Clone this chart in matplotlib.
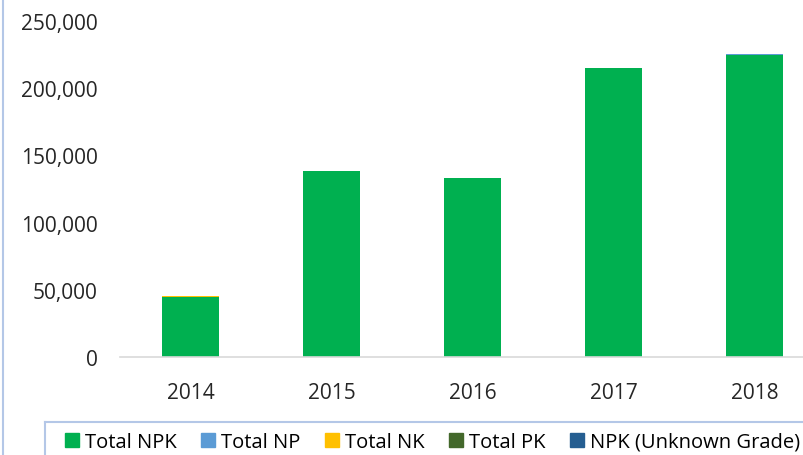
import numpy as np
import matplotlib.pyplot as plt
from matplotlib.lines import Line2D
from matplotlib.ticker import FuncFormatter

years = ["2014", "2015", "2016", "2017", "2018"]
total_npk = [44500, 138200, 133000, 215000, 225000]
total_np = [150, 100, 80, 60, 80]
total_nk = [500, 150, 100, 120, 200]
total_pk = [150, 80, 60, 60, 60]
npk_unknown = [0, 0, 0, 0, 0]

series = [
    ("Total NPK", total_npk, "#00B050"),
    ("Total NP", total_np, "#5B9BD5"),
    ("Total NK", total_nk, "#FFC000"),
    ("Total PK", total_pk, "#43682B"),
    ("NPK (Unknown Grade)", npk_unknown, "#255E91"),
]

font = "Open Sans"
tick_size = 15
legend_size = 14.5
border_color = "#B4C7E7"

fig = plt.figure(figsize=(8.04, 4.56), dpi=100)
W, H = 804, 456
ax = fig.add_axes([120 / W, 1 - 358 / H, 705 / W, (358 - 22) / H])

x = np.arange(len(years))
bottom = np.zeros(len(years))
for name, vals, color in series:
    ax.bar(x, vals, width=0.405, bottom=bottom, color=color, label=name)
    bottom += np.array(vals)

ax.set_xlim(-0.5, 4.5)
ax.set_ylim(0, 250000)
ax.set_yticks(np.arange(0, 250001, 50000))
ax.yaxis.set_major_formatter(FuncFormatter(lambda v, p: f"{int(v):,}"))
ax.set_xticks(x)
ax.set_xticklabels(years)

for s in ["top", "right", "left"]:
    ax.spines[s].set_visible(False)
ax.spines["bottom"].set_color("#D9D9D9")
ax.spines["bottom"].set_linewidth(1.2)
ax.tick_params(axis="both", length=0, labelsize=tick_size, colors="#262626")
ax.tick_params(axis="y", pad=16)
ax.tick_params(axis="x", pad=18)
for lbl in ax.get_xticklabels() + ax.get_yticklabels():
    lbl.set_fontfamily(font)

# outer frame lines (cropped chart border + legend box)
fig.add_artist(Line2D([3 / W, 3 / W], [0, 1], color=border_color, lw=1.5,
                      transform=fig.transFigure))
fig.add_artist(Line2D([45 / W, 1], [1 - 423 / H, 1 - 423 / H], color=border_color,
                      lw=1.5, transform=fig.transFigure))
fig.add_artist(Line2D([45 / W, 45 / W], [0, 1 - 423 / H], color=border_color,
                      lw=1.5, transform=fig.transFigure))

handles = [Line2D([], [], marker="s", linestyle="none", markersize=9.5,
                  markerfacecolor=c, markeredgecolor=c) for _, _, c in series]
labels = [n for n, _, _ in series]
fig.legend(handles, labels, loc="center left", bbox_to_anchor=(64 / W, 1 - 443 / H),
           ncol=5, frameon=False, handlelength=0.8, handletextpad=0.25,
           columnspacing=1.15, borderpad=0, borderaxespad=0,
           prop={"family": font, "size": legend_size})

fig.savefig("out.png", dpi=100)
